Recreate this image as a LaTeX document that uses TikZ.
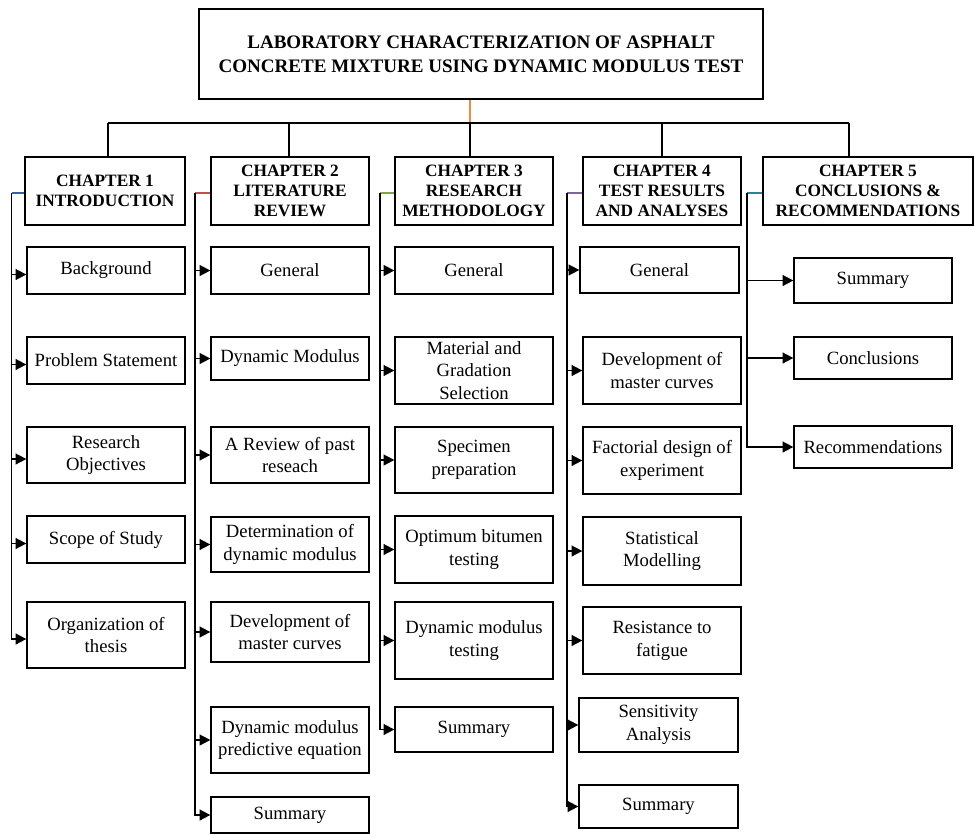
\documentclass[tikz,border=0pt]{standalone}
\usepackage{fontspec}
\setmainfont{Liberation Serif}
\usetikzlibrary{arrows.meta}
\definecolor{cblue}{RGB}{52,98,170}
\definecolor{cred}{RGB}{192,80,77}
\definecolor{cgreen}{RGB}{130,165,70}
\definecolor{cpurple}{RGB}{128,100,162}
\definecolor{cteal}{RGB}{40,130,155}
\definecolor{corange}{RGB}{240,140,60}
\tikzset{
  box/.style={draw=black, line width=0.95pt, rectangle, inner sep=0pt, align=center, font=\fontsize{14}{17}\selectfont},
  chapbox/.style={box, font=\fontsize{13}{15}\selectfont\bfseries},
  titlebox/.style={box, font=\fontsize{14.3}{18}\selectfont\bfseries},
  link/.style={draw=black, line width=1.25pt},
  arr/.style={link, -{Triangle[length=8pt,width=8pt]}},
  tick/.style={line width=0.9pt}
}
\newcommand\bx[7][box]{\node[#1, minimum width={(#5-#3)*0.75pt}, minimum height={(#6-#4)*0.75pt}] (#2) at ({(#3+#5)/2},{(#4+#6)/2}) {#7};}
\begin{document}
\begin{tikzpicture}[x=0.75pt, y=-0.75pt]
\useasboundingbox (0,0) rectangle (974,836);
% title
\bx[titlebox]{title}{199}{9}{763}{99}{LABORATORY CHARACTERIZATION OF ASPHALT\\CONCRETE MIXTURE USING DYNAMIC MODULUS TEST}
% chapters
\bx[chapbox]{ch1}{25}{157}{185}{225}{CHAPTER 1\\INTRODUCTION}
\bx[chapbox]{ch2}{211}{157}{369}{225}{CHAPTER 2\\LITERATURE\\REVIEW}
\bx[chapbox]{ch3}{395}{157}{553}{225}{CHAPTER 3\\RESEARCH\\METHODOLOGY}
\bx[chapbox]{ch4}{583}{157}{741}{225}{CHAPTER 4\\TEST RESULTS\\AND ANALYSES}
\bx[chapbox]{ch5}{763}{157}{973}{225}{CHAPTER 5\\CONCLUSIONS \&\\RECOMMENDATIONS}
% column 1
\bx{bg}{27}{247}{185}{294}{Background}
\bx{ps}{27}{337}{185}{384}{Problem Statement}
\bx{ro}{27}{427}{185}{483}{Research\\Objectives}
\bx{ss}{27}{516}{185}{563}{Scope of Study}
\bx{ot}{27}{602}{185}{668}{Organization of\\thesis}
% column 2
\bx{g2}{211}{247}{369}{294}{General}
\bx{dm}{211}{337}{369}{380}{Dynamic Modulus}
\bx{rp}{211}{427}{369}{483}{A Review of past\\reseach}
\bx{dd}{211}{517}{369}{572}{Determination of\\dynamic modulus}
\bx{mc2}{211}{602}{369}{662}{Development of\\master curves}
\bx{pe}{211}{707}{369}{773}{Dynamic modulus\\predictive equation}
\bx{s2}{211}{797}{369}{833}{Summary}
% column 3
\bx{g3}{395}{247}{553}{294}{General}
\bx{mg}{395}{337}{553}{404}{Material and\\Gradation\\Selection}
\bx{sp}{395}{427}{553}{493}{Specimen\\preparation}
\bx{ob}{395}{516}{553}{583}{Optimum bitumen\\testing}
\bx{dt}{395}{602}{553}{679}{Dynamic modulus\\testing}
\bx{s3}{395}{707}{553}{752}{Summary}
% column 4
\bx{g4}{580}{247}{739}{293}{General}
\bx{mc4}{583}{337}{741}{404}{Development of\\master curves}
\bx{fd}{583}{427}{741}{494}{Factorial design of\\experiment}
\bx{sm}{583}{517}{741}{585}{Statistical\\Modelling}
\bx{rf}{583}{607}{741}{674}{Resistance to\\fatigue}
\bx{sa}{579}{698}{738}{752}{Sensitivity\\Analysis}
\bx{s4}{579}{785}{738}{828}{Summary}
% column 5
\bx{s5}{794}{258}{952}{303}{Summary}
\bx{cn}{794}{337}{952}{379}{Conclusions}
\bx{rc}{794}{426}{952}{468}{Recommendations}
% bus
\coordinate (b1) at (108,123);
\coordinate (b2) at (289,123);
\coordinate (b3) at (470,123);
\coordinate (b4) at (662,123);
\coordinate (b5) at (849,123);
\draw[corange, line width=1pt] (title.south -| b3) -- (b3);
\draw[link] (b1) -- (b5);
\foreach \i in {1,...,5} { \draw[link] (b\i) -- (b\i |- ch\i.north); }
% trunks
\coordinate (x1) at (11.5,0);
\coordinate (x2) at (195,0);
\coordinate (x3) at (380,0);
\coordinate (x4) at (567,0);
\coordinate (x5) at (747,0);
\foreach \i in {1,...,5} { \coordinate (t\i) at ([yshift=-1.5pt]ch\i.west -| x\i); }
\draw[tick, cblue] ([yshift=-1.5pt]ch1.west) -- (t1);
\draw[tick, cred] ([yshift=-1.5pt]ch2.west) -- (t2);
\draw[tick, cgreen] ([yshift=-1.5pt]ch3.west) -- (t3);
\draw[tick, cpurple] ([yshift=-1.5pt]ch4.west) -- (t4);
\draw[tick, cteal] ([yshift=-1.5pt]ch5.west) -- (t5);
% column 1 arrows
\draw[arr] (t1) |- ([yshift=-3pt]ot.west);
\foreach \n in {bg,ps,ro,ss} { \draw[arr] ([yshift=-3pt]\n.west -| t1) -- ([yshift=-3pt]\n.west); }
% column 2 arrows
\draw[arr] (t2) |- (s2.west);
\foreach \n in {g2,dm,rp,dd,mc2,pe} { \draw[arr] (\n.west -| t2) -- (\n.west); }
% column 3 arrows
\draw[arr] (t3) |- (s3.west);
\foreach \n in {g3,mg,sp,ob,dt} { \draw[arr] (\n.west -| t3) -- (\n.west); }
% column 4 arrows
\draw[arr] (t4) |- (s4.west);
\foreach \n in {g4,mc4,fd,sm,rf,sa} { \draw[arr] (\n.west -| t4) -- (\n.west); }
% column 5 arrows
\draw[arr] (t5) |- (rc.west);
\foreach \n in {s5,cn} { \draw[arr] (\n.west -| t5) -- (\n.west); }
\end{tikzpicture}
\end{document}
